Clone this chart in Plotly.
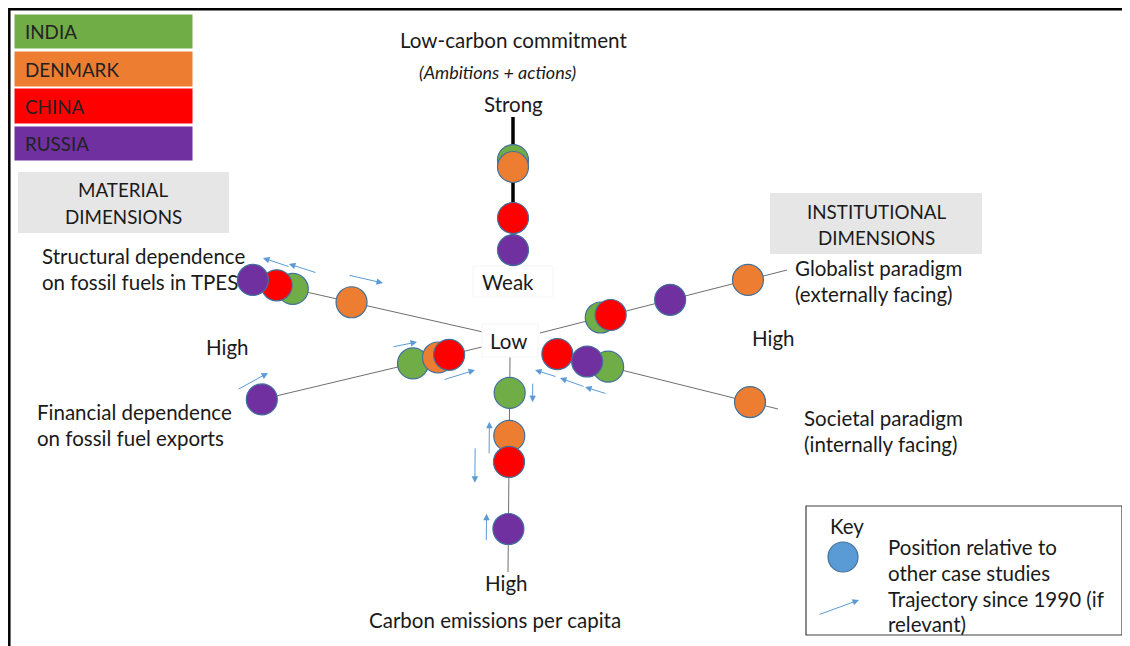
import math
import plotly.graph_objects as go

# ---------------- data ----------------
countries = ["INDIA", "DENMARK", "CHINA", "RUSSIA"]
country_colors = ["#70AD47", "#ED7D31", "#FF0000", "#7030A0"]

dimensions = ["Low-carbon commitment", "Structural dependence on fossil fuels in TPES",
              "Financial dependence on fossil fuel exports", "Carbon emissions per capita",
              "Globalist paradigm", "Societal paradigm"]

# relative position of each case study along each dimension (0 = centre/low, 1 = outer end)
india = [0.715, 0.783, 0.304, 0.167, 0.246, 0.271]
denmark = [0.669, 0.541, 0.194, 0.367, 0.842, 0.880]
china = [0.331, 0.849, 0.145, 0.488, 0.286, 0.053]
russia = [0.119, 0.947, 0.970, 0.800, 0.527, 0.181]
values = [india, denmark, china, russia]

# trajectories since 1990: dimension index, start/end position along axis, side offset (px)
arrow_dim = [1, 1, 1, 2, 2, 2, 3, 3, 3, 3, 5, 5, 5]
arrow_t_from = [0.813, 0.702, 0.579, 0.375, 0.195, 1.064, 0.116, 0.456, 0.419, 0.860, 0.0747, 0.198, 0.294]
arrow_t_to = [0.927, 0.820, 0.435, 0.266, 0.052, 0.918, 0.209, 0.302, 0.586, 0.730, -0.0213, 0.0878, 0.198]
arrow_off_from = [20.8, 20.9, 25.8, 20.8, -23.1, 14.9, -23, 20, 34, 22, 22.3, 25.3, 26.7]
arrow_off_to = [23.6, 23.5, 25.7, 19.9, -20.8, 24.3, -23, 20, 34, 22, 20.9, 22.6, 25.3]

# ---------------- geometry (page pixels) ----------------
PAGE_W, PAGE_H = 1130, 646
BODY = 8  # default page margin of the html body
dim_start = [(513, 268), (483, 332), (482, 347), (510, 357), (540, 333), (545, 351)]
dim_end = [(513, 117), (240, 277), (255, 401), (508, 572), (787, 270), (778, 409)]
line_span = [(0.10, 1.0), (0.0, 0.85), (0.0, 0.97), (0.0, 1.0), (0.0, 1.0), (0.0, 1.0)]

FONT = "Lato, Carlito, Calibri, sans-serif"
TXT = "#1a1a1a"
FS = 20.5


def pos(d, t, off=0.0):
    (sx, sy), (ex, ey) = dim_start[d], dim_end[d]
    vx, vy = ex - sx, ey - sy
    L = math.hypot(vx, vy)
    ux, uy = vx / L, vy / L
    nx, ny = -uy, ux
    return sx + t * vx + off * nx, sy + t * vy + off * ny


fig = go.Figure()
shapes = []

# outer frame
shapes.append(dict(type="rect", x0=9.3, y0=9.3, x1=1145, y1=700, line=dict(color="black", width=2.5),
                   layer="below"))

# axis lines
for d in range(len(dimensions)):
    a, b = line_span[d]
    x0, y0 = pos(d, a)
    x1, y1 = pos(d, b)
    if d == 0:
        shapes.append(dict(type="line", x0=x0, y0=y0, x1=x1, y1=y1, line=dict(color="black", width=3.5),
                           layer="below"))
    else:
        shapes.append(dict(type="line", x0=x0, y0=y0, x1=x1, y1=y1, line=dict(color="#6f6f6f", width=1),
                           layer="below"))

# white label boxes over centre
shapes.append(dict(type="rect", x0=482, y0=324, x1=538, y1=357, fillcolor="white",
                   line=dict(color="#f6f6f6", width=1), layer="below"))
shapes.append(dict(type="rect", x0=473, y0=266, x1=553, y1=297, fillcolor="white",
                   line=dict(color="#f6f6f6", width=1), layer="below"))

# legend colour boxes
leg_y = [(14, 49), (51, 87), (88, 124), (126, 161)]
for i, c in enumerate(countries):
    shapes.append(dict(type="rect", x0=14, x1=193, y0=leg_y[i][0], y1=leg_y[i][1],
                       fillcolor=country_colors[i], line=dict(color="white", width=1), layer="below"))

# dimension group boxes
shapes.append(dict(type="rect", x0=18, y0=172, x1=229, y1=233, fillcolor="#E7E6E6", line=dict(width=0),
                   layer="below"))
shapes.append(dict(type="rect", x0=770, y0=193, x1=982, y1=254, fillcolor="#E7E6E6", line=dict(width=0),
                   layer="below"))

# key box
shapes.append(dict(type="rect", x0=806, y0=506, x1=1122, y1=635, line=dict(color="#404040", width=1.2),
                   fillcolor="white", layer="below"))

# country circles
for i, c in enumerate(countries):
    xs, ys = [], []
    for d in range(len(dimensions)):
        x, y = pos(d, values[i][d])
        xs.append(x)
        ys.append(y)
    fig.add_trace(go.Scatter(x=xs, y=ys, mode="markers", name=c, showlegend=False,
                             marker=dict(size=31, color=country_colors[i],
                                         line=dict(color="#41719C", width=1.2))))

# key circle
fig.add_trace(go.Scatter(x=[843], y=[557], mode="markers", showlegend=False,
                         marker=dict(size=30, color="#5B9BD5", line=dict(color="#41719C", width=1.2))))

annotations = []

# trajectory arrows
for k in range(len(arrow_dim)):
    d = arrow_dim[k]
    tx, ty = pos(d, arrow_t_from[k], arrow_off_from[k])
    hx, hy = pos(d, arrow_t_to[k], arrow_off_to[k])
    annotations.append(dict(x=hx, y=hy, ax=tx, ay=ty, xref="x", yref="y", axref="x", ayref="y",
                            text="", showarrow=True, arrowhead=2, arrowsize=1.3, arrowwidth=1,
                            arrowcolor="#5B9BD5", standoff=0, startstandoff=0))
# key arrow
annotations.append(dict(x=859, y=600, ax=818, ay=615, xref="x", yref="y", axref="x", ayref="y",
                        text="", showarrow=True, arrowhead=2, arrowsize=1.3, arrowwidth=1,
                        arrowcolor="#5B9BD5", standoff=0, startstandoff=0))


def txt(x, y, s, size=FS, anchor="center", italic=False, color=TXT):
    annotations.append(dict(x=x, y=y, xref="x", yref="y", text=s, showarrow=False,
                            xanchor=anchor, yanchor="middle", align=anchor if anchor != "center" else "center",
                            font=dict(family=FONT, size=size, color=color,
                                      style="italic" if italic else "normal")))


# legend texts
for i, c in enumerate(countries):
    txt(23, (leg_y[i][0] + leg_y[i][1]) / 2, c, size=18.8, anchor="left", color="#222222")

txt(123, 189, "MATERIAL", size=18.8)
txt(123, 216, "DIMENSIONS", size=18.8)
txt(876, 211, "INSTITUTIONAL", size=18.8)
txt(876, 237, "DIMENSIONS", size=18.8)

txt(513, 40, "Low-carbon commitment", size=20.6)
txt(497, 72, "(Ambitions + actions)", size=18, italic=True)
txt(513, 104, "Strong")
txt(508, 282, "Weak")
txt(508, 341, "Low")

txt(40, 256, "Structural dependence", anchor="left")
txt(40, 282, "on fossil fuels in TPES", anchor="left")
txt(227, 347, "High")
txt(35, 412, "Financial dependence", anchor="left")
txt(35, 438, "on fossil fuel exports", anchor="left")
txt(506, 583, "High")
txt(495, 620, "Carbon emissions per capita")
txt(773, 338, "High")
txt(793, 268, "Globalist paradigm", anchor="left")
txt(793, 294, "(externally facing)", anchor="left")
txt(802, 418, "Societal paradigm", anchor="left")
txt(802, 444, "(internally facing)", anchor="left")

txt(828, 526, "Key", anchor="left")
txt(886, 547, "Position relative to", anchor="left")
txt(886, 573, "other case studies", anchor="left")
txt(886, 599, "Trajectory since 1990 (if", anchor="left")
txt(886, 624, "relevant)", anchor="left")

fig.update_layout(
    width=PAGE_W - BODY, height=PAGE_H - BODY, autosize=False,
    margin=dict(l=0, r=0, t=0, b=0),
    paper_bgcolor="white", plot_bgcolor="white",
    xaxis=dict(range=[BODY, PAGE_W], visible=False, fixedrange=True),
    yaxis=dict(range=[PAGE_H, BODY], visible=False, fixedrange=True),
    shapes=shapes, annotations=annotations,
    showlegend=False,
)

fig.write_html("out.html")
